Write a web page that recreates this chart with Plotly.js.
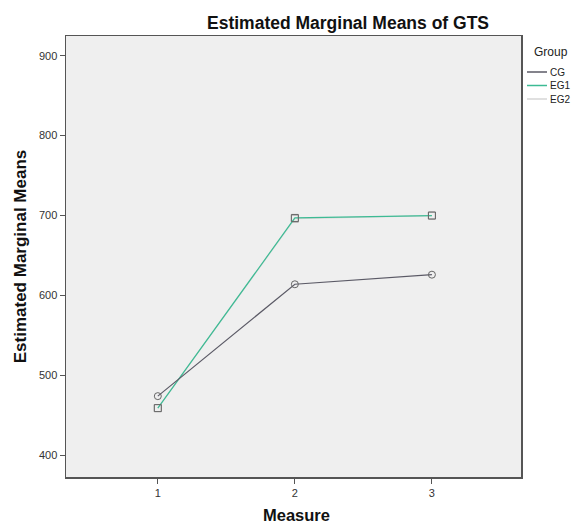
<!DOCTYPE html>
<html><head><meta charset="utf-8">
<script src="https://cdn.plot.ly/plotly-3.0.1.min.js"></script>
<style>body{margin:0;background:#fff}#c{width:574px;height:523px}</style>
</head><body><div id="c"></div>
<script>
const measures = [1, 2, 3];
const groups = ["CG", "EG1", "EG2"];
const cgMeans = [474, 614, 626];
const eg1Means = [459, 697, 700];
const eg2Means = [459, 696, 700];
const yTicks = [400, 500, 600, 700, 800, 900];

const colors = {CG: "#5b5a66", EG1: "#3dbb94", EG2: "#d6d6d6"};
const symbols = {CG: "circle-open", EG1: "square-open", EG2: "square-open"};
const series = {CG: cgMeans, EG1: eg1Means, EG2: eg2Means};
const order = ["EG2", "EG1", "CG"];

const traces = order.map(g => ({
  x: measures, y: series[g], name: g, type: "scatter", mode: "lines+markers",
  line: {color: colors[g], width: 1.2},
  marker: {symbol: symbols[g], size: 7, color: g === "EG2" ? "#aaaaaa" : "#666666", line: {width: 1}},
  showlegend: false
}));

const W = 574, H = 523;
const M = {l: 66, r: 53, t: 36, b: 46};
const PW = W - M.l - M.r, PH = H - M.t - M.b;
// convert figure pixel position to plot-area paper fraction
const px = (x) => (x - M.l) / PW, py = (y) => (H - M.b - y) / PH;
const shapes = [];
const annotations = [];
annotations.push({xref: "paper", yref: "paper", x: px(532), y: py(52), xanchor: "left", yanchor: "middle",
  text: "Group", showarrow: false, font: {size: 12, color: "#222"}});
groups.forEach((g, i) => {
  const yy = 72 + i * 13.5;
  shapes.push({type: "line", xref: "paper", yref: "paper", x0: px(527), x1: px(547), y0: py(yy), y1: py(yy),
    line: {color: colors[g], width: 1.5}});
  annotations.push({xref: "paper", yref: "paper", x: px(548), y: py(yy), xanchor: "left", yanchor: "middle",
    text: g, showarrow: false, font: {size: 10, color: "#222"}});
});
annotations.push({xref: "paper", yref: "paper", x: px(296), y: py(515), xanchor: "center", yanchor: "middle",
  text: "<b>Measure</b>", showarrow: false, font: {size: 16.5, color: "#111"}});

const layout = {
  width: W, height: H,
  margin: M,
  paper_bgcolor: "#ffffff", plot_bgcolor: "#efefef",
  font: {family: "Liberation Sans, Arial, sans-serif", color: "#333"},
  title: {text: "<b>Estimated Marginal Means of GTS</b>", font: {size: 17.5, color: "#111"},
          x: 348/W, xanchor: "center", y: 1 - 23/H, yanchor: "middle"},
  xaxis: {range: [0.33, 3.65], tickvals: measures, ticktext: measures.map(String),
          ticks: "outside", ticklen: 5, tickcolor: "#555", showgrid: false, zeroline: false,
          showline: true, linecolor: "#555", linewidth: 1.5, mirror: true,
          tickfont: {size: 11, color: "#333"}},
  yaxis: {range: [372.8, 924.7], tickvals: yTicks, ticks: "outside", ticklen: 5, tickcolor: "#555",
          showgrid: false, zeroline: false, showline: true, linecolor: "#555", linewidth: 1.5, mirror: true,
          tickfont: {size: 11, color: "#333"},
          title: {text: "<b>Estimated Marginal Means</b>", font: {size: 17, color: "#111"}, standoff: 8}},
  showlegend: false,
  shapes: shapes,
  annotations: annotations
};

Plotly.newPlot("c", traces, layout, {displayModeBar: false, staticPlot: true});
</script></body></html>
